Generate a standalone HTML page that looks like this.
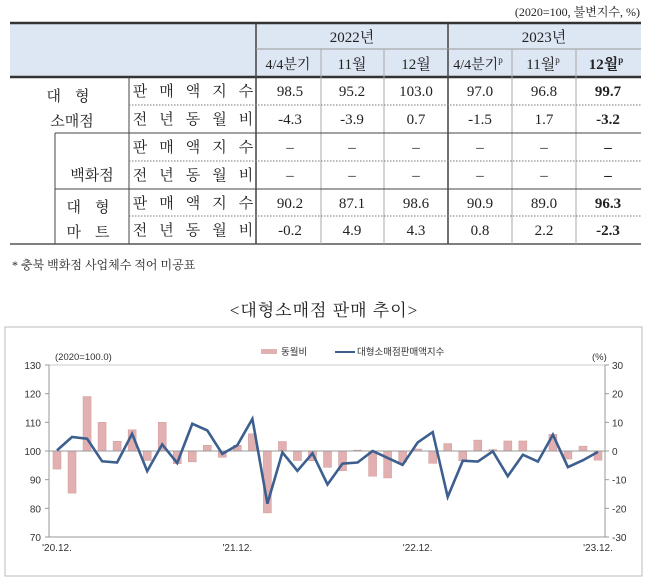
<!DOCTYPE html>
<html><head><meta charset="utf-8">
<style>
html,body{margin:0;padding:0;background:#fff;}
svg{display:block;}
.s{font-family:"Liberation Serif","Noto Serif CJK KR","Noto Serif CJK SC",serif;}
.k{font-family:"Liberation Sans","Noto Sans CJK KR",sans-serif;}
</style></head>
<body>
<svg id="root" width="648" height="583" viewBox="0 0 648 583" xmlns="http://www.w3.org/2000/svg">
<g>
  <text class="s" x="640" y="16" font-size="12" text-anchor="end" fill="#222">(2020=100, 불변지수, %)</text>
  <rect x="10" y="22" width="631" height="55" fill="#dde6f3"/>
  <line x1="10" y1="23" x2="641" y2="23" stroke="#333" stroke-width="2.5"/>
  <line x1="10" y1="77" x2="641" y2="77" stroke="#333" stroke-width="2.5"/>
  <line x1="10" y1="244" x2="641" y2="244" stroke="#555" stroke-width="1.5"/>
  <line x1="256" y1="23" x2="256" y2="244" stroke="#444" stroke-width="1.5"/>
  <line x1="448" y1="23" x2="448" y2="244" stroke="#444" stroke-width="1.5"/>
  <line x1="256" y1="49" x2="641" y2="49" stroke="#999" stroke-width="1"/>
  <g stroke="#aaa" stroke-width="1">
    <line x1="321" y1="49" x2="321" y2="244"/><line x1="384" y1="49" x2="384" y2="244"/>
    <line x1="512" y1="49" x2="512" y2="244"/><line x1="576" y1="49" x2="576" y2="244"/>
  </g>
  <line x1="129" y1="77" x2="129" y2="244" stroke="#444" stroke-width="1"/>
  <line x1="55" y1="133" x2="55" y2="244" stroke="#444" stroke-width="1"/>
  <line x1="55" y1="133" x2="641" y2="133" stroke="#444" stroke-width="1"/>
  <line x1="55" y1="189" x2="641" y2="189" stroke="#444" stroke-width="1"/>
  <g stroke="#777" stroke-width="1" stroke-dasharray="1.5,1.5">
    <line x1="129" y1="105" x2="641" y2="105"/><line x1="129" y1="161" x2="641" y2="161"/><line x1="129" y1="216" x2="641" y2="216"/>
  </g>
  <g class="s" font-size="15" fill="#222" text-anchor="middle">
    <text x="352" y="42">2022년</text>
    <text x="544" y="42">2023년</text>
    <text x="288" y="69" font-size="14">4/4분기</text>
    <text x="352" y="69">11월</text>
    <text x="416" y="69">12월</text>
    <text x="478" y="69" font-size="14">4/4분기<tspan font-size="9" dy="-6">p</tspan></text>
    <text x="543" y="69">11월<tspan font-size="9" dy="-6">p</tspan></text>
    <text x="606" y="69" font-weight="bold">12월<tspan font-size="9" dy="-6">p</tspan></text>
  </g>
  <g class="s" font-size="15" fill="#222" text-anchor="middle">
    <text x="75" y="101" letter-spacing="14">대형</text>
    <text x="72" y="126">소매점</text>
    <text x="92" y="180">백화점</text>
    <text x="95" y="212" letter-spacing="14">대형</text>
    <text x="95" y="237" letter-spacing="14">마트</text>
  </g>
  <g class="s" font-size="15" fill="#222" id="rowlabels"></g>
  <g class="s" font-size="15" fill="#222" id="cells"></g>
  <text class="s" x="12" y="269" font-size="12" fill="#222">* 충북 백화점 사업체수 적어 미공표</text>
</g>
<text class="s" x="324" y="316" font-size="17" text-anchor="middle" fill="#222" letter-spacing="1">&lt;대형소매점 판매 추이&gt;</text>
<rect x="5" y="327" width="637" height="249" fill="#fff" stroke="#bbb" stroke-width="1"/>
<g id="chart"></g>
</svg>
<script>
// table
var rowLabels=["판매액지수","전년동월비","판매액지수","전년동월비","판매액지수","전년동월비"];
var tableVals=[["98.5","95.2","103.0","97.0","96.8","99.7"],["-4.3","-3.9","0.7","-1.5","1.7","-3.2"],["–","–","–","–","–","–"],["–","–","–","–","–","–"],["90.2","87.1","98.6","90.9","89.0","96.3"],["-0.2","4.9","4.3","0.8","2.2","-2.3"]];
var NS="http://www.w3.org/2000/svg";
var rowY=[96,124,152,180,208,235];
var colX=[290,352,416,480,544,608];
var rl=document.getElementById('rowlabels'), cl=document.getElementById('cells');
rowLabels.forEach(function(l,r){
  var chars=l.split('');
  chars.forEach(function(c,i){
    var t=document.createElementNS(NS,'text');
    
    
    t.setAttribute('x',140+i*26.5);t.setAttribute('y',rowY[r]);t.setAttribute('text-anchor','middle');
    t.textContent=c;rl.appendChild(t);
  });
  tableVals[r].forEach(function(v,c){
    var t=document.createElementNS(NS,'text');
    
    
    t.setAttribute('x',colX[c]);t.setAttribute('y',rowY[r]);t.setAttribute('text-anchor','middle');
    if(c===5)t.setAttribute('font-weight','bold');
    t.textContent=v.replace('-','−').replace('−','-');cl.appendChild(t);
  });
});

// chart data
var months=["'20.12.","21.1","21.2","21.3","21.4","21.5","21.6","21.7","21.8","21.9","21.10","21.11","'21.12.","22.1","22.2","22.3","22.4","22.5","22.6","22.7","22.8","22.9","22.10","22.11","'22.12.","23.1","23.2","23.3","23.4","23.5","23.6","23.7","23.8","23.9","23.10","23.11","'23.12."];
var indexVals=[100.2,104.9,104.3,96.4,96.0,106.0,93.0,102.3,95.8,109.5,107.2,99.0,102.0,111.2,81.6,99.5,93.1,99.2,88.3,95.6,96.0,100.0,97.6,95.2,103.0,106.6,84.0,96.6,96.3,99.9,91.2,98.7,96.3,105.7,94.4,96.8,99.7];
var yoyVals=[-6.3,-14.7,19.0,10.0,3.4,7.4,-3.3,10.0,-4.4,-3.8,2.0,-2.2,2.0,6.0,-21.6,3.3,-3.3,-3.4,-5.7,-6.9,0.3,-8.8,-9.4,-3.9,0.7,-4.3,2.6,-3.4,3.8,0.5,3.5,3.5,0.1,5.8,-2.8,1.7,-3.2];
var leftTicks=[130,120,110,100,90,80,70];
var rightTicks=[30,20,10,0,-10,-20,-30];
var xLabelIdx=[0,12,24,36];

var X0=49,X1=605,YT=365,YB=537;
function xPos(i){return 57+i*(598-57)/(months.length-1);}
function yL(v){return YB-(v-70)/(130-70)*(YB-YT);}
function yR(v){return YB-(v+30)/60*(YB-YT);}
var ch=document.getElementById('chart');
function el(tag,attrs,name,txt){var e=document.createElementNS(NS,tag);for(var k in attrs)e.setAttribute(k,attrs[k]);
  
  
  if(txt!==undefined)e.textContent=txt;ch.appendChild(e);return e;}
el('line',{x1:X0,y1:YT,x2:X1,y2:YT,stroke:'#ccc'},'plot-top-border');
el('line',{x1:X0,y1:YT,x2:X0,y2:YB,stroke:'#999'},'left-axis');
el('line',{x1:X1,y1:YT,x2:X1,y2:YB,stroke:'#999'},'right-axis');
el('line',{x1:X0,y1:YB,x2:X1,y2:YB,stroke:'#999'},'x-axis');
leftTicks.forEach(function(t){
  el('line',{x1:X0-4,y1:yL(t),x2:X0,y2:yL(t),stroke:'#999'},'left-tick');
  el('text',{x:X0-8,y:yL(t)+4,'font-size':10,'text-anchor':'end',fill:'#333','class':'k'},'left-tick-label',String(t));
});
rightTicks.forEach(function(t){
  el('line',{x1:X1,y1:yR(t),x2:X1+4,y2:yR(t),stroke:'#999'},'right-tick');
  el('text',{x:X1+7,y:yR(t)+4,'font-size':10,fill:'#333','class':'k'},'right-tick-label',(t<0?'-':'')+Math.abs(t));
});
var bw=8;
yoyVals.forEach(function(v,i){
  var y0=yR(0),y1=yR(v);
  el('rect',{x:xPos(i)-bw/2,y:Math.min(y0,y1),width:bw,height:Math.max(0.8,Math.abs(y1-y0)),fill:'#e2b0b0',stroke:'#cf9a9a','stroke-width':0.5},'yoy-bar');
});
el('line',{x1:X0,y1:yR(0),x2:X1,y2:yR(0),stroke:'#999'},'zero-line');
var pts=indexVals.map(function(v,i){return xPos(i).toFixed(1)+','+yL(v).toFixed(1);}).join(' ');
el('polyline',{points:pts,fill:'none',stroke:'#3d5f8f','stroke-width':2.6,'stroke-linejoin':'miter'},'index-line');
xLabelIdx.forEach(function(i){
  el('text',{x:xPos(i),y:YB+14,'font-size':10,'text-anchor':'middle',fill:'#333','class':'k'},'x-tick-label',months[i]);
});
el('text',{x:55,y:360,'font-size':9.5,fill:'#333','class':'k'},'left-axis-unit','(2020=100.0)');
el('text',{x:592,y:360,'font-size':9.5,fill:'#333','class':'k'},'right-axis-unit','(%)');
el('rect',{x:261,y:349,width:16,height:5,fill:'#e2b0b0'},'legend-yoy-swatch');
el('text',{x:281,y:355,'font-size':9.5,fill:'#333','class':'k'},'legend-yoy-label','동월비');
el('line',{x1:335,y1:352,x2:355,y2:352,stroke:'#3d5f8f','stroke-width':2},'legend-index-swatch');
el('text',{x:357,y:355,'font-size':9.5,fill:'#333','class':'k'},'legend-index-label','대형소매점판매액지수');
</script>
</body></html>
